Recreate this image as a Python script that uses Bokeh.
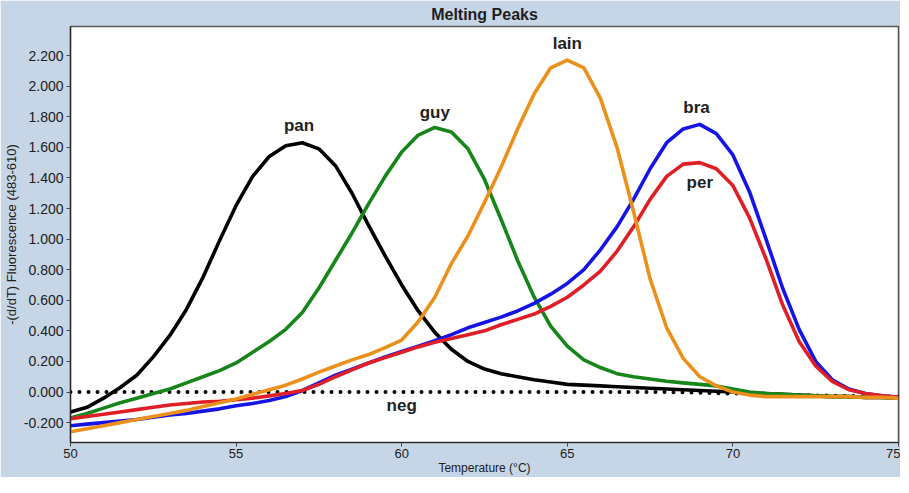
from bokeh.plotting import figure
from bokeh.models import Range1d, NumeralTickFormatter, ColumnDataSource
from bokeh.core.properties import value
from bokeh.embed import file_html
from bokeh.resources import INLINE

# ---------------- data ----------------
temperature = [50.0, 50.5, 51.0, 51.5, 52.0, 52.5, 53.0, 53.5, 54.0, 54.5,
               55.0, 55.5, 56.0, 56.5, 57.0, 57.5, 58.0, 58.5, 59.0, 59.5,
               60.0, 60.5, 61.0, 61.5, 62.0, 62.5, 63.0, 63.5, 64.0, 64.5,
               65.0, 65.5, 66.0, 66.5, 67.0, 67.5, 68.0, 68.5, 69.0, 69.5,
               70.0, 70.5, 71.0, 71.5, 72.0, 72.5, 73.0, 73.5, 74.0, 74.5,
               75.0]

pan = [-0.13, -0.10, -0.04, 0.03, 0.11, 0.23, 0.37, 0.54, 0.75, 0.99,
       1.22, 1.41, 1.54, 1.61, 1.63, 1.59, 1.48, 1.30, 1.09, 0.89,
       0.70, 0.53, 0.39, 0.28, 0.20, 0.15, 0.12, 0.10, 0.08, 0.065,
       0.05, 0.045, 0.04, 0.035, 0.03, 0.025, 0.02, 0.015, 0.01, 0.005,
       0.0, -0.005, -0.01, -0.015, -0.02, -0.025, -0.03, -0.03, -0.035, -0.035,
       -0.04]

guy = [-0.17, -0.14, -0.105, -0.07, -0.04, -0.01, 0.02, 0.06, 0.10, 0.14,
       0.19, 0.26, 0.33, 0.41, 0.52, 0.68, 0.86, 1.04, 1.23, 1.41,
       1.57, 1.68, 1.73, 1.70, 1.59, 1.39, 1.13, 0.86, 0.62, 0.43,
       0.30, 0.21, 0.16, 0.12, 0.10, 0.085, 0.07, 0.06, 0.05, 0.04,
       0.02, 0.0, -0.01, -0.015, -0.02, -0.025, -0.03, -0.03, -0.035, -0.035,
       -0.04]

lain = [-0.26, -0.24, -0.22, -0.20, -0.18, -0.16, -0.14, -0.12, -0.095, -0.07,
        -0.045, -0.015, 0.015, 0.045, 0.085, 0.13, 0.17, 0.21, 0.245, 0.29,
        0.34, 0.46, 0.62, 0.84, 1.02, 1.24, 1.47, 1.72, 1.95, 2.12,
        2.17, 2.12, 1.92, 1.60, 1.18, 0.74, 0.42, 0.22, 0.10, 0.04,
        0.0, -0.02, -0.03, -0.03, -0.03, -0.03, -0.03, -0.03, -0.035, -0.035,
        -0.04]

bra = [-0.22, -0.21, -0.20, -0.19, -0.18, -0.165, -0.15, -0.14, -0.125, -0.11,
       -0.09, -0.075, -0.055, -0.03, 0.01, 0.06, 0.11, 0.15, 0.19, 0.23,
       0.265, 0.30, 0.335, 0.375, 0.42, 0.455, 0.49, 0.53, 0.58, 0.64,
       0.71, 0.80, 0.93, 1.08, 1.26, 1.46, 1.63, 1.72, 1.75, 1.69,
       1.55, 1.31, 1.00, 0.68, 0.41, 0.20, 0.08, 0.02, -0.01, -0.025,
       -0.035]

per = [-0.175, -0.16, -0.145, -0.13, -0.115, -0.10, -0.085, -0.075, -0.065, -0.06,
       -0.05, -0.04, -0.025, -0.01, 0.01, 0.05, 0.10, 0.145, 0.19, 0.225,
       0.26, 0.295, 0.325, 0.35, 0.375, 0.40, 0.44, 0.475, 0.51, 0.56,
       0.62, 0.70, 0.79, 0.92, 1.08, 1.26, 1.41, 1.49, 1.50, 1.46,
       1.35, 1.14, 0.87, 0.57, 0.33, 0.17, 0.07, 0.015, -0.01, -0.025,
       -0.035]

neg = [0.0, 0.0, 0.0, 0.0, 0.0, 0.0, 0.0, 0.0, 0.0, 0.0,
       0.0, 0.0, 0.0, 0.0, 0.0, 0.0, 0.0, 0.0, 0.0, 0.0,
       0.0, 0.0, 0.0, 0.0, 0.0, 0.0, 0.0, 0.0, 0.0, 0.0,
       0.0, 0.0, 0.0, 0.0, 0.0, 0.0, 0.0, -0.002, -0.005, -0.007,
       -0.01, -0.012, -0.015, -0.017, -0.02, -0.022, -0.024, -0.026, -0.027, -0.029,
       -0.03]

label_names = ["pan", "guy", "lain", "bra", "per", "neg"]
label_temps = [56.9, 61.0, 65.0, 68.9, 69.0, 60.0]
label_values = [1.74, 1.83, 2.28, 1.86, 1.37, -0.09]

y_ticks = [-0.2, 0.0, 0.2, 0.4, 0.6, 0.8, 1.0, 1.2, 1.4, 1.6, 1.8, 2.0, 2.2]
x_ticks = [50, 55, 60, 65, 70, 75]

# ---------------- figure ----------------
BG = "#c7d6e6"
p = figure(width=900, height=477, output_backend="svg", toolbar_location=None,
           x_range=Range1d(50, 75), y_range=Range1d(-0.33, 2.39),
           min_border_left=65, min_border_right=2, min_border_top=23, min_border_bottom=31)

p.background_fill_color = "white"
p.border_fill_color = BG
p.outline_line_color = "#555555"
p.outline_line_width = 1.5
p.grid.visible = False

p.title.text = "Melting Peaks"
p.title.align = "center"
p.title.text_font = "Liberation Sans Narrow, Liberation Sans, Arial"
p.title.text_font_size = "16px"
p.title.text_font_style = "bold"
p.title.text_color = "#1e1e1e"
p.title.offset = 0
p.title.standoff = 7

# axes
p.xaxis.ticker = x_ticks
p.xaxis.minor_tick_line_color = None
p.yaxis.ticker = y_ticks
p.yaxis.formatter = NumeralTickFormatter(format="0.000")
p.yaxis.minor_tick_line_color = None
for ax in (p.xaxis, p.yaxis):
    ax.axis_line_color = "#222222"
    ax.axis_line_width = 1.2
    ax.major_tick_line_color = "#444444"
    ax.major_tick_in = 0
    ax.major_tick_out = 4
    ax.major_label_text_color = "#202020"
    ax.axis_label_text_color = "#202020"
    ax.axis_label_text_font_style = "normal"

p.xaxis.major_label_text_font = "Liberation Sans Narrow, Liberation Sans, Arial"
p.xaxis.major_label_text_font_size = "13px"
p.xaxis.major_label_standoff = 2
p.xaxis.axis_label = "Temperature (°C)"
p.xaxis.axis_label_text_font = "Liberation Sans Narrow, Liberation Sans, Arial"
p.xaxis.axis_label_text_font_size = "12px"
p.xaxis.axis_label_standoff = 0

p.yaxis.major_label_text_font = "Liberation Sans, Arial"
p.yaxis.major_label_text_font_size = "14px"
p.yaxis.major_label_standoff = 3
p.yaxis.axis_label = "-(d/dT) Fluorescence (483-610)"
p.yaxis.axis_label_text_font = "Liberation Sans, Arial"
p.yaxis.axis_label_text_font_size = "13px"
p.yaxis.axis_label_standoff = 2

src = ColumnDataSource(dict(t=temperature, pan=pan, guy=guy, lain=lain,
                            bra=bra, per=per, neg=neg))

p.line("t", "neg", source=src, color="black", line_width=4,
       line_dash="0 9", line_cap="round")
series = [("pan", "#000000"), ("guy", "#16861a"), ("bra", "#1414e6"),
          ("per", "#e01e26"), ("lain", "#ec901c")]
for name, col in series:
    p.line("t", name, source=src, color=col, line_width=3.6, line_join="round")

lab = ColumnDataSource(dict(x=label_temps, y=label_values, text=label_names))
p.text("x", "y", text="text", source=lab, text_align="center", text_baseline="middle",
       text_font=value("Liberation Sans, Arial"), text_font_size="17px",
       text_font_style="bold", text_color="#222222")

open("out.html", "w").write(file_html(p, INLINE))
